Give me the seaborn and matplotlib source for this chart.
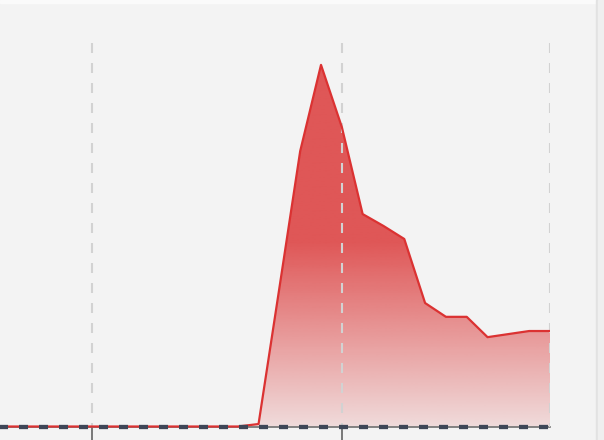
import numpy as np
import pandas as pd
import matplotlib
matplotlib.use("Agg")
import matplotlib.pyplot as plt
from matplotlib.patches import Rectangle
from matplotlib.colors import to_rgb
import seaborn as sns

# ── Data (monthly index, gridlines every 12 months) ───────────────────────
months = list(range(-5, 23))
series_a = [0, 0, 0, 0, 0, 0, 0, 0, 0, 0, 0, 0, 0, 0.65, 36.1, 71.8,
            94.3, 78.1, 55.4, 52.3, 48.9, 32.2, 28.6, 28.6, 23.3, 24.1, 24.9, 24.9]
series_b = [0] * len(months)
grid_positions = [0, 12, 22]
tick_positions = [0, 12]

df = pd.DataFrame({"month": months, "a": series_a, "b": series_b})

BG = "#f3f3f3"
RED = "#dc3b3b"
DARK = "#3e4657"

sns.set_theme(style="white")
plt.rcParams["lines.scale_dashes"] = False

fig = plt.figure(figsize=(6.04, 4.40), dpi=100, facecolor=BG)
ax = fig.add_axes([0.0, 0.0202, 550 / 604, 0.8820])
ax.set_facecolor(BG)

ax.set_xlim(-4.42, 22)
ax.set_ylim(-1.2, 100)

# dashed vertical grid, drawn top -> bottom
for gx in grid_positions:
    ax.plot([gx, gx], [100, -0.15], color="#d2d2d2", lw=1.5,
            dashes=(7.2, 7.2), zorder=3, solid_capstyle="butt")

# gradient fill under the red series
poly = ax.fill_between(df["month"], df["a"], 0, color="none", lw=0)
n = 400
yy = np.linspace(100, 0, n)
alpha = np.clip(0.13 + (0.85 - 0.13) * yy / 48.0, 0.13, 0.85)
rgba = np.zeros((n, 1, 4))
rgba[..., :3] = to_rgb(RED)
rgba[:, 0, 3] = alpha
img = ax.imshow(rgba, extent=[-5, 22, 0, 100], aspect="auto",
                origin="upper", zorder=2)
img.set_clip_path(poly.get_paths()[0], transform=ax.transData)

sns.lineplot(data=df, x="month", y="a", color="#db3232", lw=1.6,
             ax=ax, zorder=4)
sns.lineplot(data=df, x="month", y="b", color=DARK, lw=3.1,
             ax=ax, zorder=5)
ax.lines[-1].set_dashes((6.5, 7.9))
ax.lines[-1].set_dash_capstyle("butt")

for s in ["top", "left", "right"]:
    ax.spines[s].set_visible(False)
ax.spines["bottom"].set_position(("data", -0.15))
ax.spines["bottom"].set_color("#6f6f6f")
ax.spines["bottom"].set_linewidth(1.2)
ax.spines["bottom"].set_bounds(-4.42, 22)

ax.set_xticks(tick_positions)
ax.set_xticklabels(["", ""])
ax.tick_params(axis="x", direction="out", length=10, width=1.3,
               color="#6f6f6f", bottom=True)
ax.set_yticks([])
ax.set_xlabel("")
ax.set_ylabel("")
if ax.get_legend():
    ax.get_legend().remove()

# page edges from the original screenshot
fig.patches.append(Rectangle((0, 437 / 440), 596 / 604, 3 / 440,
                             transform=fig.transFigure, color="#fafafa", zorder=-1))
fig.patches.append(Rectangle((596 / 604, 0), 2 / 604, 1,
                             transform=fig.transFigure, color="#e2e2e2", zorder=-1))
fig.patches.append(Rectangle((598 / 604, 0), 6 / 604, 1,
                             transform=fig.transFigure, color="#efefef", zorder=-1))

fig.savefig("out.png", dpi=100, facecolor=BG)
